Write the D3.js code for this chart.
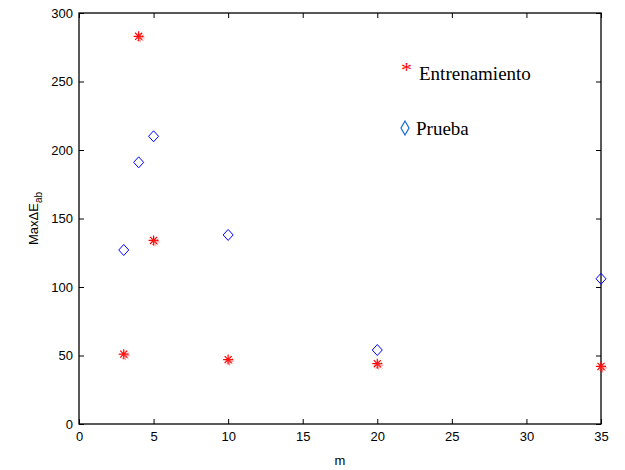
<!DOCTYPE html>
<html>
<head>
<meta charset="utf-8">
<script src="https://cdn.jsdelivr.net/npm/d3@7"></script>
<style>
  html, body { margin: 0; padding: 0; background: #fff; }
  svg { display: block; }
</style>
</head>
<body>
<div id="chart"></div>
<script>
// Max ΔE_ab per number of components m
const mValues = [3, 4, 5, 10, 20, 35];
const entrenamiento = [51, 283, 134, 47, 44, 42];
const prueba = [127, 191, 210, 138, 54, 106];
const xTicks = [0, 5, 10, 15, 20, 25, 30, 35];
const yTicks = [0, 50, 100, 150, 200, 250, 300];

const W = 625, H = 470;
const margin = { left: 79, right: 24, top: 13, bottom: 46 };

const svg = d3.select("#chart").append("svg")
  .attr("width", W).attr("height", H);

const x = d3.scaleLinear().domain([0, 35]).range([margin.left, W - margin.right]);
const y = d3.scaleLinear().domain([0, 300]).range([H - margin.bottom, margin.top]);

const tickFont = "Liberation Sans, Arial, sans-serif";

// axis box
svg.append("rect")
  .attr("x", x(0)).attr("y", y(300))
  .attr("width", x(35) - x(0)).attr("height", y(0) - y(300))
  .attr("fill", "none").attr("stroke", "#000").attr("stroke-width", 1.3);

// inward ticks on all four sides
const tl = 5;
const axB = svg.append("g").attr("transform", `translate(0,${y(0)})`)
  .call(d3.axisBottom(x).tickValues(xTicks).tickSizeInner(-tl).tickSizeOuter(0).tickPadding(8));
const axT = svg.append("g").attr("transform", `translate(0,${y(300)})`)
  .call(d3.axisTop(x).tickValues(xTicks).tickSizeInner(-tl).tickSizeOuter(0).tickFormat(""));
const axL = svg.append("g").attr("transform", `translate(${x(0)},0)`)
  .call(d3.axisLeft(y).tickValues(yTicks).tickSizeInner(-tl).tickSizeOuter(0).tickPadding(6));
const axR = svg.append("g").attr("transform", `translate(${x(35)},0)`)
  .call(d3.axisRight(y).tickValues(yTicks).tickSizeInner(-tl).tickSizeOuter(0).tickFormat(""));

[axB, axT, axL, axR].forEach(g => {
  g.select(".domain").remove();
  g.selectAll("line").attr("stroke", "#000");
  g.selectAll("text").attr("font-family", tickFont).attr("font-size", 13).attr("fill", "#000");
});

// axis labels
svg.append("text")
  .attr("x", x(17.5)).attr("y", 465)
  .attr("text-anchor", "middle")
  .attr("font-family", tickFont).attr("font-size", 13)
  .text("m");

const yl = svg.append("text")
  .attr("transform", `translate(38,${y(150)}) rotate(-90)`)
  .attr("text-anchor", "middle")
  .attr("font-family", tickFont).attr("font-size", 13);
yl.append("tspan").text("MaxΔE");
yl.append("tspan").attr("font-size", 10).attr("dy", 4).text("ab");

// asterisk marker path
function asterisk(r) {
  const d = [];
  for (let i = 0; i < 4; i++) {
    const a = i * Math.PI / 4;
    const dx = r * Math.cos(a), dy = r * Math.sin(a);
    d.push(`M${-dx},${-dy}L${dx},${dy}`);
  }
  return d.join("");
}
function diamond(w, h) {
  return `M0,${-h}L${w},0L0,${h}L${-w},0Z`;
}

const trainData = mValues.map((m, i) => ({ m, v: entrenamiento[i] }));
const testData = mValues.map((m, i) => ({ m, v: prueba[i] }));

svg.append("g").selectAll("path").data(trainData).enter().append("path")
  .attr("transform", d => `translate(${x(d.m)},${y(d.v)})`)
  .attr("d", asterisk(5))
  .attr("fill", "none").attr("stroke", "#ff0000").attr("stroke-width", 1.2);
svg.append("g").selectAll("path").data(trainData).enter().append("path")
  .attr("transform", d => `translate(${x(d.m) + 1.5},${y(d.v) + 1.5})`)
  .attr("d", asterisk(4.5))
  .attr("fill", "none").attr("stroke", "#ff4040").attr("stroke-width", 0.9).attr("opacity", 0.7);

svg.append("g").selectAll("path").data(testData).enter().append("path")
  .attr("transform", d => `translate(${x(d.m)},${y(d.v)})`)
  .attr("d", diamond(5, 5.5))
  .attr("fill", "none").attr("stroke", "#0000ff").attr("stroke-width", 1);

// legend
const legFont = "Liberation Serif, Times New Roman, serif";
svg.append("text")
  .attr("x", 401).attr("y", 77)
  .attr("font-family", legFont).attr("font-size", 22).attr("fill", "#ff0000")
  .text("*");
svg.append("text")
  .attr("x", 419).attr("y", 80)
  .attr("font-family", legFont).attr("font-size", 19)
  .text("Entrenamiento");
svg.append("path")
  .attr("transform", "translate(405,128)")
  .attr("d", diamond(4, 7))
  .attr("fill", "none").attr("stroke", "#1f6fe0").attr("stroke-width", 1.3);
svg.append("text")
  .attr("x", 416).attr("y", 135)
  .attr("font-family", legFont).attr("font-size", 19)
  .text("Prueba");
</script>
</body>
</html>
